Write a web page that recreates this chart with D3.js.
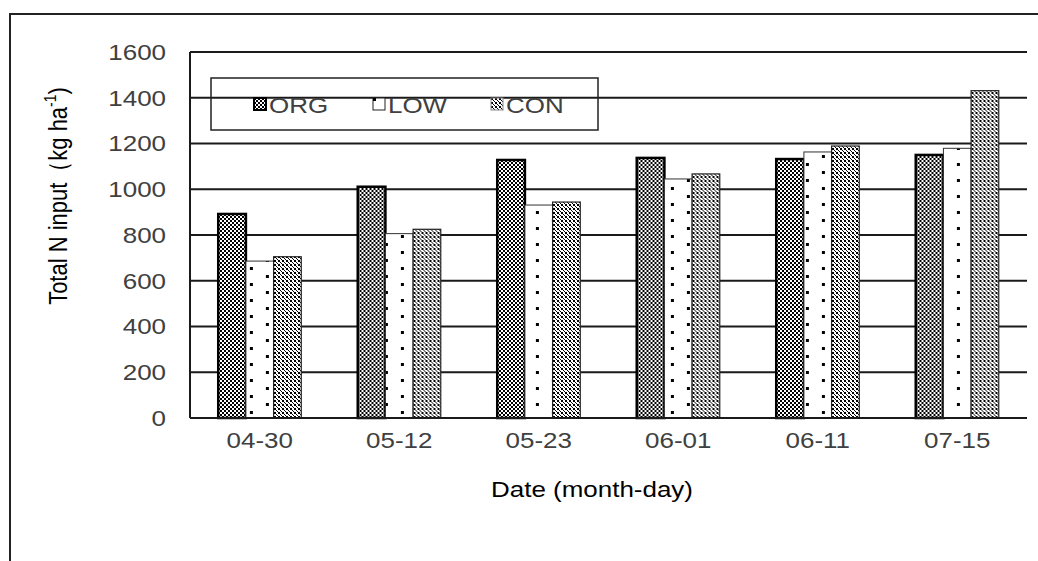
<!DOCTYPE html>
<html>
<head>
<meta charset="utf-8">
<script src="https://cdn.jsdelivr.net/npm/d3@7"></script>
<style>
  body { margin: 0; background: #fff; }
  svg { display: block; font-family: "Liberation Sans", Arial, sans-serif; }
</style>
</head>
<body>
<svg width="1038" height="561"></svg>
<script>
var dates = ["04-30", "05-12", "05-23", "06-01", "06-11", "07-15"];
var series = ["ORG", "LOW", "CON"];
var orgValues = [892, 1011, 1128, 1137, 1132, 1150];
var lowValues = [686, 806, 931, 1045, 1163, 1179];
var conValues = [705, 825, 944, 1067, 1189, 1431];
var yTicks = [0, 200, 400, 600, 800, 1000, 1200, 1400, 1600];

var svg = d3.select("svg"),
    margin = { top: 52, right: 11, bottom: 143, left: 190 },
    width = svg.attr("width") - margin.left - margin.right,
    height = svg.attr("height") - margin.top - margin.bottom;

// the source picture is stretched sideways, so text is widened a little
var fontSize = 22, stretch = 1.18;

var data = dates.map(function(d, i) {
    return { date: d, ORG: orgValues[i], LOW: lowValues[i], CON: conValues[i] };
});

var x0 = d3.scaleBand().domain(dates).range([0, width]).padding(0);
var x1 = d3.scaleBand().domain(series).range([0, x0.bandwidth()]).paddingInner(0).paddingOuter(1.02);
var y = d3.scaleLinear().domain([0, 1600]).range([height, 0]);

function stretchedText(sel, x, yy, anchor) {
    return sel.append("g")
        .attr("transform", "translate(" + x + "," + yy + ") scale(" + stretch + ",1)")
        .append("text")
        .attr("text-anchor", anchor)
        .attr("font-size", fontSize);
}

var defs = svg.append("defs");

// dense checker for ORG
var pOrg = defs.append("pattern").attr("id", "pat-org")
    .attr("patternUnits", "userSpaceOnUse").attr("width", 4).attr("height", 4);
pOrg.append("rect").attr("width", 4).attr("height", 4).attr("fill", "#fff");
pOrg.append("rect").attr("width", 2).attr("height", 2).attr("fill", "#000");
pOrg.append("rect").attr("x", 2).attr("y", 2).attr("width", 2).attr("height", 2).attr("fill", "#000");

// lighter checker for CON
var pCon = defs.append("pattern").attr("id", "pat-con")
    .attr("patternUnits", "userSpaceOnUse").attr("width", 4).attr("height", 4);
pCon.append("rect").attr("width", 4).attr("height", 4).attr("fill", "#fff");
pCon.append("rect").attr("width", 2).attr("height", 2).attr("fill", "#000");
pCon.append("rect").attr("x", 2).attr("y", 2).attr("width", 1).attr("height", 1).attr("fill", "#000");
pCon.append("rect").attr("x", 3).attr("y", 3).attr("width", 1).attr("height", 1).attr("fill", "#000");

// outer frame (only left and top visible)
svg.append("path")
    .attr("d", "M10," + svg.attr("height") + "V14H" + svg.attr("width"))
    .attr("fill", "none").attr("stroke", "#222").attr("stroke-width", 2);

var g = svg.append("g")
    .attr("transform", "translate(" + margin.left + "," + margin.top + ")");

// gridlines
g.append("g").selectAll("line").data(yTicks).enter().append("line")
    .attr("x1", 0).attr("x2", width)
    .attr("y1", function(d) { return y(d); }).attr("y2", function(d) { return y(d); })
    .attr("stroke", "#1a1a1a").attr("stroke-width", 2);

// left axis
g.append("line").attr("x1", 0).attr("x2", 0).attr("y1", 0).attr("y2", height)
    .attr("stroke", "#1a1a1a").attr("stroke-width", 2);

// y tick labels
yTicks.forEach(function(t) {
    stretchedText(g, -24, y(t), "end")
        .attr("dy", "0.36em").attr("fill", "#404040").text(t);
});

// x tick labels
dates.forEach(function(d) {
    stretchedText(g, x0(d) + x0.bandwidth() / 2, height + 30, "middle")
        .attr("fill", "#404040").text(d);
});

var groups = g.append("g").selectAll("g").data(data).enter().append("g")
    .attr("transform", function(d) { return "translate(" + x0(d.date) + ",0)"; });

// LOW dot patterns, one per bar so dots sit at the same place inside every bar
data.forEach(function(d, i) {
    var p = defs.append("pattern").attr("id", "pat-low-" + i)
        .attr("patternUnits", "userSpaceOnUse")
        .attr("x", margin.left + x0(d.date) + x1("LOW") + 6)
        .attr("y", margin.top + height - 11)
        .attr("width", 32).attr("height", 16);
    p.append("rect").attr("x", -6).attr("width", 38).attr("height", 16).attr("fill", "#fff");
    p.append("rect").attr("width", 3).attr("height", 3).attr("fill", "#000");
    p.append("rect").attr("x", 16).attr("y", 8).attr("width", 3).attr("height", 3).attr("fill", "#000");
});

groups.append("rect")
    .attr("x", x1("ORG")).attr("width", x1.bandwidth())
    .attr("y", function(d) { return y(d.ORG); })
    .attr("height", function(d) { return height - y(d.ORG); })
    .attr("fill", "url(#pat-org)").attr("stroke", "#000").attr("stroke-width", 2.5);

groups.append("rect")
    .attr("x", x1("LOW")).attr("width", x1.bandwidth())
    .attr("y", function(d) { return y(d.LOW); })
    .attr("height", function(d) { return height - y(d.LOW); })
    .attr("fill", function(d, i) { return "url(#pat-low-" + i + ")"; })
    .attr("stroke", "#333").attr("stroke-width", 1);

groups.append("rect")
    .attr("x", x1("CON")).attr("width", x1.bandwidth())
    .attr("y", function(d) { return y(d.CON); })
    .attr("height", function(d) { return height - y(d.CON); })
    .attr("fill", "url(#pat-con)").attr("stroke", "#222").attr("stroke-width", 1.2);

// baseline on top
g.append("line").attr("x1", 0).attr("x2", width).attr("y1", height).attr("y2", height)
    .attr("stroke", "#1a1a1a").attr("stroke-width", 2);

// axis titles
stretchedText(svg, 592, 497, "middle").attr("fill", "#000").text("Date (month-day)");

var yTitle = svg.append("g")
    .attr("transform", "translate(67,196) scale(" + stretch + ",1) rotate(-90)")
    .append("text")
    .attr("text-anchor", "middle").attr("font-size", fontSize).attr("fill", "#000");
yTitle.append("tspan").text("Total N input（kg ha");
yTitle.append("tspan").attr("dy", -9).attr("font-size", 14).text("-1");
yTitle.append("tspan").attr("dy", 9).text(")");

// legend
var legend = svg.append("g");
legend.append("rect")
    .attr("x", 211).attr("y", 78).attr("width", 387).attr("height", 52)
    .attr("fill", "none").attr("stroke", "#222").attr("stroke-width", 1.5);

var legendX = d3.scaleOrdinal().domain(series).range([254, 373, 491]);
var swatchFill = { ORG: "url(#pat-org)", LOW: "#fff", CON: "url(#pat-con)" };
var swatchStroke = { ORG: "#000", LOW: "#222", CON: "#888" };
var item = legend.selectAll("g.item").data(series).enter().append("g")
    .attr("class", "item")
    .attr("transform", function(d) { return "translate(" + legendX(d) + ",98)"; });
item.append("rect")
    .attr("width", 12).attr("height", 12)
    .attr("fill", function(d) { return swatchFill[d]; })
    .attr("stroke", function(d) { return swatchStroke[d]; })
    .attr("stroke-width", function(d) { return d === "ORG" ? 2 : 1; });
item.filter(function(d) { return d === "LOW"; }).append("rect")
    .attr("width", 3).attr("height", 3).attr("fill", "#000");
item.each(function() {
    stretchedText(d3.select(this), 15, 15, "start").attr("fill", "#404040")
        .text(function(d) { return d; });
});
</script>
</body>
</html>
